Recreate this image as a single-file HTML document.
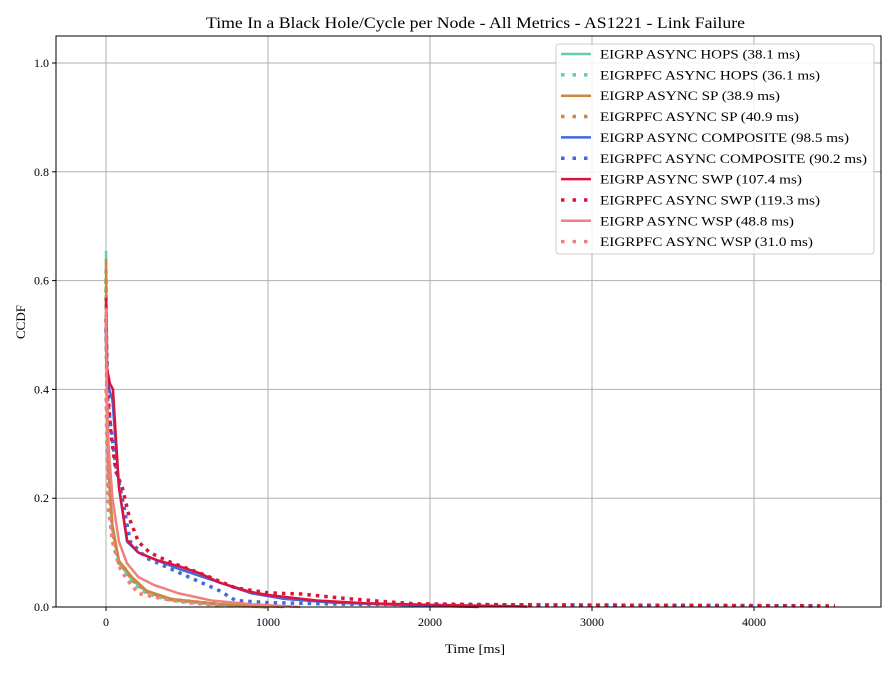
<!DOCTYPE html>
<html><head><meta charset="utf-8"><style>
body{margin:0;background:#fff;}
svg{font-family:"Liberation Serif","DejaVu Serif",serif;}
</style></head><body>
<svg id="chart" width="895" height="672" viewBox="0 0 895 672" xmlns="http://www.w3.org/2000/svg">
<rect width="895" height="672" fill="#fff"/>
<text x="206" y="28" font-size="16" textLength="539" lengthAdjust="spacingAndGlyphs">Time In a Black Hole/Cycle per Node - All Metrics - AS1221 - Link Failure</text>
<g id="grid"></g><g id="series"></g><g id="axes"></g><g id="legend"></g>
<text x="445" y="653" font-size="13" textLength="60" lengthAdjust="spacingAndGlyphs">Time [ms]</text>
<text x="25" y="322" font-size="13" text-anchor="middle" transform="rotate(-90 25 322)">CCDF</text>
</svg>
<script>
const xTicks=[0,1000,2000,3000,4000];
const yTicks=[0,0.2,0.4,0.6,0.8,1.0];
const yTickLabels=["0.0","0.2","0.4","0.6","0.8","1.0"];
const seriesNames=["EIGRP ASYNC HOPS (38.1 ms)","EIGRPFC ASYNC HOPS (36.1 ms)","EIGRP ASYNC SP (38.9 ms)","EIGRPFC ASYNC SP (40.9 ms)","EIGRP ASYNC COMPOSITE (98.5 ms)","EIGRPFC ASYNC COMPOSITE (90.2 ms)","EIGRP ASYNC SWP (107.4 ms)","EIGRPFC ASYNC SWP (119.3 ms)","EIGRP ASYNC WSP (48.8 ms)","EIGRPFC ASYNC WSP (31.0 ms)"];
const legendWidths=[200,220,180,199,249,267,202,220,194,213];
const seriesColors=["#66cdaa","#66cdaa","#cd853f","#cd853f","#4169e1","#4169e1","#dc143c","#dc143c","#f08080","#f08080"];
const seriesDashed=[false,true,false,true,false,true,false,true,false,true];
const hopsT=[0,5,15,40,80,120,160,250,400,700,1000];
const hopsV=[0.655,0.42,0.25,0.14,0.08,0.065,0.05,0.028,0.014,0.005,0];
const hopsFcT=[0,5,15,40,80,120,160,250,400,700,1000];
const hopsFcV=[0.62,0.4,0.24,0.13,0.08,0.06,0.045,0.025,0.012,0.004,0];
const spT=[0,5,15,40,80,120,160,250,400,700,1100];
const spV=[0.64,0.41,0.25,0.15,0.085,0.07,0.055,0.03,0.015,0.005,0];
const spFcT=[0,5,15,40,80,120,160,250,400,700,1000];
const spFcV=[0.6,0.38,0.23,0.14,0.08,0.07,0.05,0.028,0.014,0.005,0];
const compT=[0,5,20,40,80,130,200,320,450,600,750,900,1100,1400,1800,2300];
const compV=[0.5,0.43,0.4,0.38,0.22,0.12,0.1,0.085,0.07,0.055,0.04,0.025,0.015,0.008,0.004,0];
const compFcT=[0,10,30,60,100,150,250,400,550,700,800,1000,1500,2500,3500,4400];
const compFcV=[0.51,0.38,0.33,0.26,0.2,0.12,0.09,0.07,0.05,0.03,0.012,0.008,0.005,0.004,0.003,0.002];
const swpT=[0,5,25,43,80,130,200,315,450,580,700,890,1000,1300,1600,2000,2600];
const swpV=[0.568,0.44,0.41,0.4,0.22,0.123,0.1,0.086,0.075,0.062,0.045,0.028,0.022,0.012,0.007,0.004,0.001];
const swpFcT=[0,10,30,60,100,148,200,270,400,600,800,1000,1200,1500,1900,2500,3500,4500];
const swpFcV=[0.53,0.4,0.32,0.25,0.22,0.16,0.12,0.1,0.082,0.06,0.035,0.026,0.024,0.015,0.006,0.004,0.003,0.002];
const wspT=[0,5,15,40,80,130,200,300,450,650,900,1200];
const wspV=[0.55,0.4,0.3,0.2,0.12,0.08,0.055,0.04,0.025,0.012,0.005,0];
const wspFcT=[0,5,15,40,80,130,200,300,500,700];
const wspFcV=[0.4,0.3,0.18,0.12,0.075,0.05,0.025,0.018,0.008,0.003];
const seriesT=[hopsT,hopsFcT,spT,spFcT,compT,compFcT,swpT,swpFcT,wspT,wspFcT];
const seriesV=[hopsV,hopsFcV,spV,spFcV,compV,compFcV,swpV,swpFcV,wspV,wspFcV];

const NS="http://www.w3.org/2000/svg";
const L=56,R=881,T=36,B=607;
const xs=t=>106+t*0.162;
const ys=v=>607-v*544;
function mk(tag,attrs,parent){const e=document.createElementNS(NS,tag);for(const k in attrs)e.setAttribute(k,attrs[k]);parent.appendChild(e);return e;}
const grid=document.getElementById('grid'),axes=document.getElementById('axes'),ser=document.getElementById('series'),leg=document.getElementById('legend');
xTicks.forEach(t=>{
 const g=mk('line',{x1:xs(t),x2:xs(t),y1:T,y2:B,stroke:'#b0b0b0','stroke-width':1},grid);
 
 
 mk('line',{x1:xs(t),x2:xs(t),y1:B,y2:B+4,stroke:'#000'},axes);
 const tx=mk('text',{x:xs(t),y:B+19,'font-size':12,'text-anchor':'middle'},axes);tx.textContent=t;
 
 
});
yTicks.forEach((v,i)=>{
 const g=mk('line',{x1:L,x2:R,y1:ys(v),y2:ys(v),stroke:'#b0b0b0','stroke-width':1},grid);
 
 
 mk('line',{x1:L-4,x2:L,y1:ys(v),y2:ys(v),stroke:'#000'},axes);
 const tx=mk('text',{x:L-7,y:ys(v)+4,'font-size':12,'text-anchor':'end'},axes);tx.textContent=yTickLabels[i];
 
 
});
const fr=mk('rect',{x:L,y:T,width:R-L,height:B-T,fill:'none',stroke:'#000','stroke-width':1},axes);


seriesT.forEach((ts,i)=>{
 const pts=ts.map((t,j)=>xs(t)+','+ys(seriesV[i][j])).join(' ');
 const a={points:pts,fill:'none',stroke:seriesColors[i],'stroke-width':2.5,'stroke-linejoin':'round'};
 if(seriesDashed[i]){a['stroke-width']=3.5;a['stroke-dasharray']='3.5,5';}
 const p=mk('polyline',a,ser);
 
 
});
const lb=mk('rect',{x:556,y:44,width:318,height:210,rx:3,fill:'#fff','fill-opacity':0.85,stroke:'#ccc'},leg);


seriesNames.forEach((n,i)=>{
 const y=54+i*20.85;
 const a={x1:561,x2:591,y1:y,y2:y,stroke:seriesColors[i],'stroke-width':2.5};
 if(seriesDashed[i]){a['stroke-width']=3.5;a['stroke-dasharray']='3.5,8';}
 mk('line',a,leg);
 const tx=mk('text',{x:600,y:y+4.5,'font-size':13,textLength:legendWidths[i],lengthAdjust:'spacingAndGlyphs'},leg);tx.textContent=n;
 
 
});
</script>
</body></html>
